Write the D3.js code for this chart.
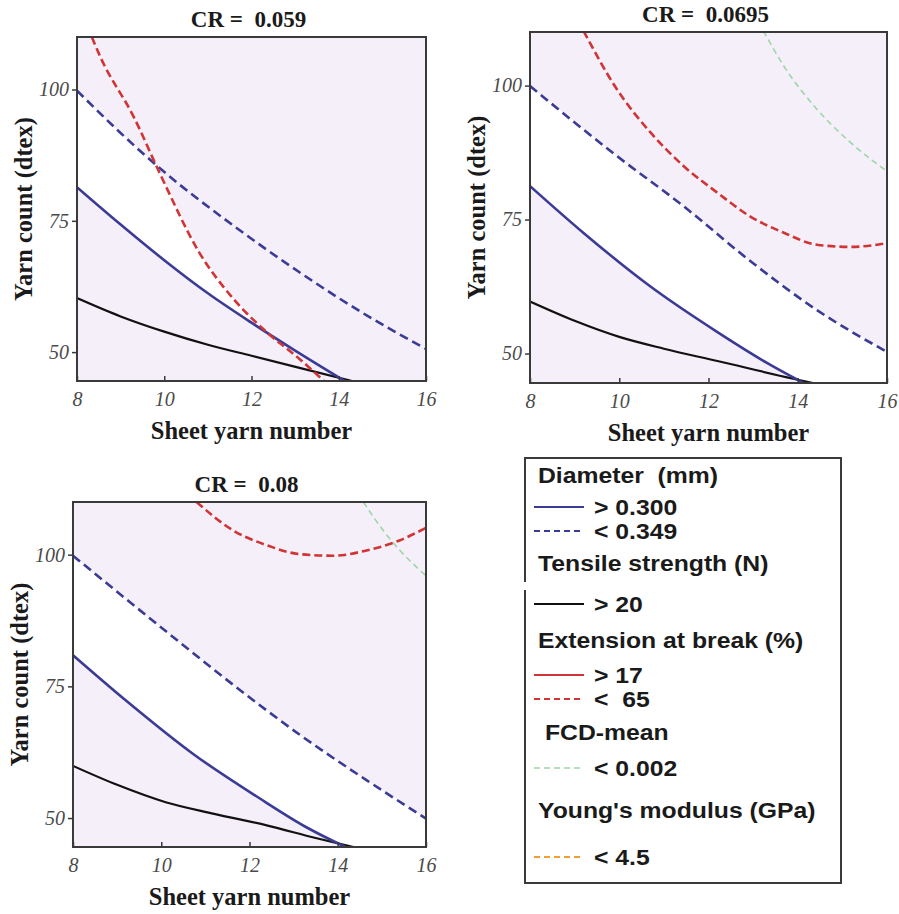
<!DOCTYPE html>
<html lang="en"><head><meta charset="utf-8">
<title>Overlay plots</title>
<script src="https://cdnjs.cloudflare.com/ajax/libs/d3/7.8.5/d3.min.js"></script>
<style>
  body { margin: 0; background: #fff; }
  svg { display: block; }
</style>
</head>
<body>
<script>
// tick values and panel titles
var xTicks = [8, 10, 12, 14, 16];
var yTicks = [50, 75, 100];
var xDomain = [8, 16];
var yDomain = [44.5, 110];
var panelTitles = ["CR =  0.059", "CR =  0.0695", "CR =  0.08"];

// contour lines, [sheet yarn number, yarn count]
// CR = 0.059
var p1DiamLow  = [[8,81.4],[9,74.3],[10,67.5],[11,61.2],[12,55.6],[13,50.3],[14.2,44.2]];
var p1DiamHigh = [[8,99.8],[8.9,92.5],[9.9,85],[11.6,74],[13.1,65.2],[14.64,57],[16,50.6]];
var p1Tensile  = [[8,60.3],[9,56.8],[10,53.9],[11,51.4],[12,49.3],[13.1,47],[14.4,44.3]];
var p1ExtHigh  = [[8.34,110],[8.53,106.3],[9.3,94.8],[9.9,84],[10.8,69],[11.6,60],[12.35,53.8],[13.1,48.7],[13.7,44.2]];
var p1Fcd      = [];
// CR = 0.0695
var p2DiamLow  = [[8,81.25],[9.2,72.5],[10.7,62.5],[12.2,54],[13.3,48.3],[14.2,44.2]];
var p2DiamHigh = [[8,99.9],[9.94,86.9],[11.44,77.5],[12.9,67.5],[14.43,58.1],[16,50.3]];
var p2Tensile  = [[8,59.7],[9,56.1],[10,53.1],[11,50.9],[12.2,48.6],[13.9,45.3],[14.45,44.3]];
var p2ExtHigh  = [[9.2,110.2],[9.94,99.4],[10.7,91.25],[11.44,85],[12.2,80],[12.93,75.6],[13.7,72.5],[14.43,70.3],[15.2,69.9],[16,70.6]];
var p2Fcd      = [[13.23,110.2],[13.68,103.75],[14.43,95.6],[15.18,89.4],[16,84]];
// CR = 0.08
var p3DiamLow  = [[8,80.9],[9.2,72.3],[10.7,62.3],[12.2,53.9],[13.3,48.2],[14.25,44.2]];
var p3DiamHigh = [[8,99.8],[10.1,85.5],[11.63,75.3],[13.14,65.8],[14.65,57.2],[16,49.9]];
var p3Tensile  = [[8,59.9],[9,56.3],[10.1,53],[11.2,50.8],[12.39,48.6],[13.5,46.2],[14.45,44.3]];
var p3ExtHigh  = [[10.8,110],[11.63,104.6],[12.39,101.8],[13.14,100.1],[13.9,99.8],[14.65,100.8],[15.4,102.7],[16,105.1]];
var p3Fcd      = [[14.58,110],[15.03,104.6],[15.41,100.8],[16,96]];

// legend rows
var legendHeaders = ["Diameter  (mm)", "Tensile strength (N)", "Extension at break (%)", "FCD-mean", "Young's modulus (GPa)"];
var legendLabels  = ["> 0.300", "< 0.349", "> 20", "> 17", "<  65", "< 0.002", "< 4.5"];
var legendKeys    = ["diamLow", "diamHigh", "tensile", "extLow", "extHigh", "fcd", "young"];

var styles = {
  diamLow:  { color: "#3b3b96", width: 2.6, dash: null },
  diamHigh: { color: "#3b3b96", width: 2.6, dash: "9,5" },
  tensile:  { color: "#111111", width: 2.2, dash: null },
  extLow:   { color: "#d03434", width: 2.6, dash: null },
  extHigh:  { color: "#d03434", width: 2.6, dash: "8,4" },
  fcd:      { color: "#9ed6a6", width: 1.6, dash: "6,4" },
  young:    { color: "#f0a030", width: 2.2, dash: "6,4" }
};

var panels = [
  { title: panelTitles[0], box: [77, 37, 426, 381],
    lines: { diamLow: p1DiamLow, diamHigh: p1DiamHigh, tensile: p1Tensile, extHigh: p1ExtHigh, fcd: p1Fcd } },
  { title: panelTitles[1], box: [530, 32, 887, 383],
    lines: { diamLow: p2DiamLow, diamHigh: p2DiamHigh, tensile: p2Tensile, extHigh: p2ExtHigh, fcd: p2Fcd } },
  { title: panelTitles[2], box: [73, 502, 426, 847],
    lines: { diamLow: p3DiamLow, diamHigh: p3DiamHigh, tensile: p3Tensile, extHigh: p3ExtHigh, fcd: p3Fcd } }
];

var width = 899, height = 914;
var serif = "'Liberation Serif', 'Times New Roman', serif";
var sans = "'Liberation Sans', Arial, sans-serif";

var svg = d3.select("body").append("svg")
    .attr("width", width)
    .attr("height", height);
var defs = svg.append("defs");

panels.forEach(function(p, i) {
  var x = d3.scaleLinear().domain(xDomain).range([p.box[0], p.box[2]]);
  var y = d3.scaleLinear().domain(yDomain).range([p.box[3], p.box[1]]);
  var line = d3.line()
      .x(function(d) { return x(d[0]); })
      .y(function(d) { return y(d[1]); })
      .curve(d3.curveMonotoneX);
  var poly = d3.line()
      .x(function(d) { return x(d[0]); })
      .y(function(d) { return y(d[1]); })
      .curve(d3.curveLinearClosed);

  defs.append("clipPath").attr("id", "plot" + i)
    .append("rect")
      .attr("x", p.box[0]).attr("y", p.box[1])
      .attr("width", p.box[2] - p.box[0]).attr("height", p.box[3] - p.box[1]);

  // region under the extension (< 65) contour
  var under = [[xDomain[0], yDomain[1]]].concat(p.lines.extHigh, [[xDomain[1], yDomain[0]], [xDomain[0], yDomain[0]]]);
  defs.append("clipPath").attr("id", "ext" + i)
    .append("path")
      .attr("d", poly(under));

  var g = svg.append("g");

  // shaded background
  g.append("rect")
      .attr("x", p.box[0]).attr("y", p.box[1])
      .attr("width", p.box[2] - p.box[0]).attr("height", p.box[3] - p.box[1])
      .attr("fill", "#f4eff9");

  // white window between the two diameter limits
  var band = p.lines.diamHigh.concat([[xDomain[1], yDomain[0] - 1]], p.lines.diamLow.slice().reverse());
  g.append("g").attr("clip-path", "url(#plot" + i + ")")
    .append("path")
      .attr("clip-path", "url(#ext" + i + ")")
      .attr("d", poly(band))
      .attr("fill", "#ffffff");

  // contour lines
  var lg = g.append("g").attr("clip-path", "url(#plot" + i + ")");
  ["fcd", "tensile", "diamLow", "diamHigh", "extHigh"].forEach(function(k) {
    var pts = p.lines[k];
    if (!pts || pts.length < 2) return;
    lg.append("path")
        .attr("d", line(pts))
        .attr("fill", "none")
        .attr("stroke", styles[k].color)
        .attr("stroke-width", styles[k].width)
        .attr("stroke-dasharray", styles[k].dash)
        .attr("stroke-linecap", "butt");
  });

  // frame
  g.append("rect")
      .attr("x", p.box[0]).attr("y", p.box[1])
      .attr("width", p.box[2] - p.box[0]).attr("height", p.box[3] - p.box[1])
      .attr("fill", "none")
      .attr("stroke", "#3a3a3a")
      .attr("stroke-width", 2);

  // axes
  var xAxis = d3.axisBottom(x).tickValues(xTicks).tickSize(-5).tickPadding(11);
  var yAxis = d3.axisLeft(y).tickValues(yTicks).tickSize(5).tickPadding(3);
  var gx = g.append("g").attr("transform", "translate(0," + p.box[3] + ")").call(xAxis);
  var gy = g.append("g").attr("transform", "translate(" + p.box[0] + ",0)").call(yAxis);
  [gx, gy].forEach(function(a) {
    a.select(".domain").remove();
    a.selectAll(".tick line").attr("stroke", "#3a3a3a").attr("stroke-width", 1.5);
    a.selectAll(".tick text")
        .attr("fill", "#4a4a4a")
        .style("font-family", serif)
        .style("font-style", "italic")
        .style("font-size", "20px");
  });
  gx.selectAll(".tick text").attr("dy", "0.71em");

  var cx = (p.box[0] + p.box[2]) / 2;
  var cy = (p.box[1] + p.box[3]) / 2;

  g.append("text")
      .attr("x", cx - 3).attr("y", p.box[1] - 10)
      .attr("text-anchor", "middle")
      .style("font-family", serif).style("font-weight", "bold").style("font-size", "23px")
      .attr("fill", "#1a1a1a")
      .attr("xml:space", "preserve")
      .text(p.title);

  g.append("text")
      .attr("x", cx).attr("y", p.box[3] + 58)
      .attr("text-anchor", "middle")
      .style("font-family", serif).style("font-weight", "bold").style("font-size", "24.5px")
      .attr("fill", "#1a1a1a")
      .text("Sheet yarn number");

  g.append("text")
      .attr("transform", "translate(" + (p.box[0] - 45) + "," + cy + ") rotate(-90)")
      .attr("text-anchor", "middle")
      .style("font-family", serif).style("font-weight", "bold").style("font-size", "24.5px")
      .attr("fill", "#1a1a1a")
      .text("Yarn count (dtex)");
});

// legend box (left border has a small break)
var lb = [525, 458, 841, 883];
var legend = svg.append("g");
legend.append("path")
    .attr("d", "M" + lb[0] + "," + 582 + "V" + lb[1] + "H" + lb[2] + "V" + lb[3] + "H" + lb[0] + "V" + 590)
    .attr("fill", "none")
    .attr("stroke", "#3a3a3a")
    .attr("stroke-width", 2);

var headerY = [475, 563, 640, 732, 810];
var rowY = [507, 531, 604, 675, 699, 768, 857];
var stretch = 1.1;

legend.selectAll("text.header")
  .data(legendHeaders)
  .enter().append("text")
    .attr("class", "header")
    .attr("transform", function(d, i) {
      return "translate(" + (i === 3 ? 545 : 538) + "," + headerY[i] + ") scale(" + stretch + ",1)";
    })
    .attr("dy", "0.36em")
    .attr("xml:space", "preserve")
    .style("font-family", sans).style("font-weight", "bold").style("font-size", "22.5px")
    .attr("fill", "#1a1a1a")
    .text(function(d) { return d; });

var rows = legend.selectAll("g.row")
  .data(legendKeys)
  .enter().append("g")
    .attr("class", "row")
    .attr("transform", function(d, i) { return "translate(0," + rowY[i] + ")"; });

rows.append("line")
    .attr("x1", 534).attr("x2", 584)
    .attr("stroke", function(d) { return styles[d].color; })
    .attr("stroke-width", function(d) { return Math.min(styles[d].width, 2.2); })
    .attr("stroke-dasharray", function(d) { return styles[d].dash ? "6,4" : null; });

rows.append("text")
    .attr("transform", "translate(594,0) scale(" + stretch + ",1)")
    .attr("dy", "0.36em")
    .attr("xml:space", "preserve")
    .style("font-family", sans).style("font-weight", "bold").style("font-size", "22.5px")
    .attr("fill", "#1a1a1a")
    .text(function(d, i) { return legendLabels[i]; });
</script>
</body></html>
